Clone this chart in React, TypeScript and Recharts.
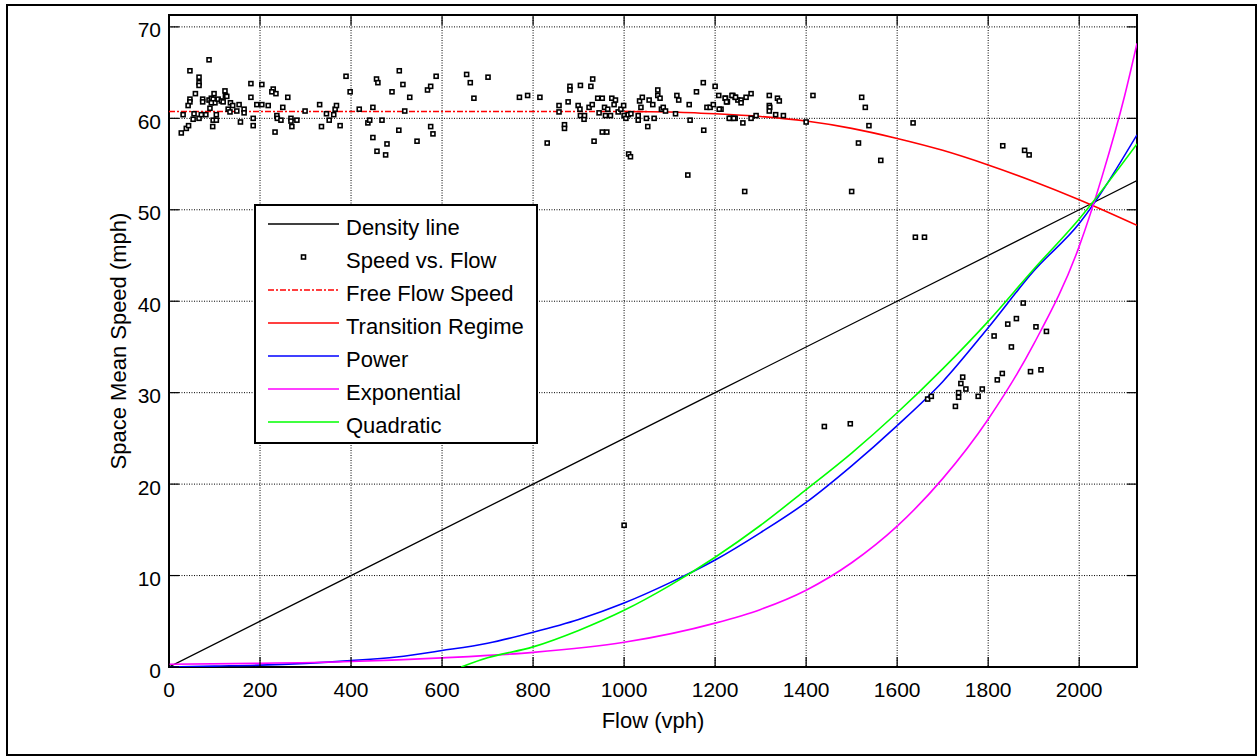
import React from 'react';
import { ComposedChart, Line, Scatter, XAxis, YAxis, CartesianGrid, ReferenceArea } from 'recharts';

// axis ticks
const xTicks = [0, 200, 400, 600, 800, 1000, 1200, 1400, 1600, 1800, 2000];
const yTicks = [0, 10, 20, 30, 40, 50, 60, 70];
const X_MAX = 2127;
const Y_MAX = 71.3;

// observed points: [flow (vph), speed (mph)]
const speedVsFlow: [number, number][] = [
    [88, 66.4], [46, 65.2], [66, 64.5], [66, 63.9], [66, 63.6], [58, 62.7], [46, 62.1], [46, 61.8], [42, 61.4], [74, 62.1],
    [74, 61.8], [88, 62.0], [93, 62.2], [99, 62.7], [97, 62.1], [101, 61.7], [108, 62.1], [115, 61.9], [119, 61.8], [123, 63.0],
    [124, 62.5], [127, 62.4], [135, 61.7], [140, 61.4], [130, 61.0], [134, 60.7], [149, 60.8], [154, 61.5], [165, 61.0], [165, 60.6],
    [157, 59.6], [180, 63.8], [180, 62.3], [185, 60.0], [185, 59.2], [193, 61.5], [204, 61.5], [204, 63.7], [218, 61.4], [229, 63.2],
    [226, 62.9], [235, 62.7], [237, 60.3], [238, 60.0], [233, 58.5], [246, 59.8], [250, 61.2], [261, 62.3], [268, 60.0], [268, 59.7],
    [270, 59.1], [281, 59.8], [299, 60.8], [331, 61.5], [335, 59.1], [346, 60.5], [352, 59.8], [362, 60.4], [365, 61.0], [368, 61.4],
    [376, 59.2], [389, 64.6], [398, 62.9], [418, 61.0], [437, 59.5], [441, 59.8], [448, 61.2], [448, 57.9], [456, 64.3], [459, 63.9],
    [457, 56.4], [468, 59.8], [476, 56.0], [479, 57.2], [490, 62.9], [505, 58.7], [506, 65.2], [514, 63.7], [518, 60.8], [529, 62.3],
    [545, 57.5], [568, 63.1], [575, 63.5], [575, 59.1], [580, 58.3], [587, 64.6],
    [27, 58.4], [38, 58.9], [43, 59.2], [31, 60.4], [53, 59.9], [55, 60.5], [66, 60.0], [71, 60.4], [81, 60.4], [96, 59.1],
    [97, 59.8], [104, 59.8], [104, 60.4], [90, 61.1], [93, 61.7],
    [654, 64.8], [662, 63.9], [670, 62.2], [701, 64.5], [770, 62.3], [788, 62.5], [815, 62.3], [831, 57.3], [857, 61.4], [857, 60.7],
    [869, 59.3], [869, 58.9], [877, 61.8], [881, 63.5], [881, 63.1], [899, 61.4], [903, 61.0], [904, 63.6], [904, 60.3], [912, 59.9],
    [913, 60.3], [923, 61.2], [927, 63.5], [930, 61.5], [931, 64.3], [934, 57.5], [942, 62.2], [945, 60.6], [952, 62.2], [952, 58.5],
    [962, 58.5], [957, 61.2], [959, 60.3], [964, 61.0], [970, 60.3], [973, 62.2], [978, 61.5], [981, 62.0], [987, 60.7], [993, 61.0],
    [999, 61.4], [1000, 60.3], [1004, 60.0], [1010, 56.1], [1014, 55.8], [1009, 60.4], [1015, 60.5], [1031, 60.3], [1031, 59.8], [1034, 61.9],
    [1037, 61.2], [1040, 62.3], [1049, 60.0], [1052, 59.1], [1055, 62.0], [1063, 61.5], [1066, 60.0], [1074, 63.1], [1074, 62.5], [1079, 62.2],
    [1082, 61.0], [1086, 61.2], [1091, 60.8], [1113, 60.5], [1116, 62.5], [1120, 62.0], [1143, 61.5], [1145, 59.8], [1159, 62.9], [1175, 58.7],
    [1174, 63.9], [1182, 61.2], [1189, 61.2], [1196, 61.5], [1200, 63.5], [1208, 62.5], [1213, 61.0], [1223, 62.2], [1227, 61.8], [1234, 60.0],
    [1244, 60.0], [1239, 62.5], [1244, 62.3], [1250, 62.0],
    [1209, 61.0], [1222, 62.2], [1225, 61.8], [1237, 62.5], [1245, 62.3], [1257, 62.0], [1257, 61.7], [1268, 62.3], [1279, 62.7], [1231, 60.0],
    [1241, 60.0], [1261, 59.5], [1279, 60.0], [1290, 60.3], [1319, 62.5], [1319, 61.4], [1320, 61.2], [1319, 60.8], [1333, 60.4], [1337, 62.2],
    [1341, 61.9], [1350, 60.3], [1400, 59.6], [1415, 62.5], [1515, 57.3], [1522, 62.3], [1530, 61.2], [1538, 59.2], [1564, 55.4], [1635, 59.5],
    [1832, 57.0], [1880, 56.5], [1890, 56.0],
    [1000, 15.5], [1140, 53.8], [1265, 52.0], [1500, 52.0], [1440, 26.3], [1640, 47.0], [1660, 47.0],
    [1497, 26.6], [1667, 29.3], [1675, 29.6], [1728, 28.5], [1735, 29.5], [1735, 30.0], [1740, 31.0], [1744, 31.7], [1751, 30.4], [1778, 29.6],
    [1787, 30.4], [1813, 36.2], [1820, 31.4], [1831, 32.1], [1843, 37.5], [1851, 35.0], [1862, 38.1], [1877, 39.8], [1893, 32.3], [1905, 37.2],
    [1916, 32.5], [1928, 36.7],
];

// fitted / reference curves
const densityFlow = [0, 400, 800, 1200, 1600, 2000, 2127];
const densitySpeed = [0, 10, 20, 30, 40, 50, 53.2];

const freeFlowFlow = [0, 1050];
const freeFlowSpeed = [60.75, 60.75];

const transitionFlow = [1000, 1100, 1200, 1300, 1400, 1500, 1600, 1700, 1800, 1900, 2000, 2127];
const transitionSpeed = [60.75, 60.7, 60.5, 60.2, 59.7, 58.9, 57.8, 56.5, 54.9, 53.1, 51.1, 48.3];

const powerFlow = [0, 100, 200, 300, 400, 500, 600, 700, 800, 900, 1000, 1100, 1200, 1300, 1400, 1500, 1600, 1700, 1800, 1900, 2000, 2127];
const powerSpeed = [0, 0.1, 0.2, 0.4, 0.7, 1.1, 1.8, 2.6, 3.8, 5.2, 7.0, 9.2, 11.7, 14.7, 18.0, 22.0, 26.4, 31.2, 37.1, 43.3, 48.5, 58.2];

const expFlow = [0, 200, 400, 600, 800, 1000, 1200, 1300, 1400, 1500, 1600, 1700, 1800, 1900, 2000, 2050, 2100, 2127];
const expSpeed = [0.3, 0.4, 0.6, 1.0, 1.6, 2.7, 4.8, 6.3, 8.4, 11.4, 15.4, 20.6, 27.1, 35.3, 46.0, 53.6, 62.5, 68.2];

const quadFlow = [642, 700, 800, 900, 1000, 1100, 1200, 1300, 1400, 1500, 1600, 1700, 1800, 1900, 2000, 2127];
const quadSpeed = [0, 1.0, 2.2, 4.0, 6.2, 8.9, 12.0, 15.5, 19.4, 23.4, 27.8, 32.6, 37.8, 43.5, 49.0, 57.2];

const legendItems = [
    { name: 'Density line', color: '#000000', kind: 'line', dash: undefined },
    { name: 'Speed vs. Flow', color: '#000000', kind: 'marker', dash: undefined },
    { name: 'Free Flow Speed', color: '#ff0000', kind: 'line', dash: '6 2 2 2' },
    { name: 'Transition Regime', color: '#ff0000', kind: 'line', dash: undefined },
    { name: 'Power', color: '#0000ff', kind: 'line', dash: undefined },
    { name: 'Exponential', color: '#ff00ff', kind: 'line', dash: undefined },
    { name: 'Quadratic', color: '#00ff00', kind: 'line', dash: undefined },
];

// layout
const CHART_W = 1257;
const CHART_H = 756;
const PLOT_LEFT = 169;
const PLOT_RIGHT = 1137;
const PLOT_TOP = 15;
const PLOT_BOTTOM = 667;
const Y_AXIS_W = 102;
const X_AXIS_H = 70;
const FONT = '"Liberation Sans", Arial, Helvetica, sans-serif';

const toPoints = (xs: number[], ys: number[]) => xs.map((x, i) => ({ x, y: ys[i] }));
const scatterData = speedVsFlow.map(([x, y]) => ({ x, y }));

// MATLAB style: ticks point inward, on both sides of the box
const XTick = ({ x, y, payload }: any) => (
    <g>
        <line x1={x} x2={x} y1={y} y2={y - 10} stroke="#000" strokeWidth={1.2} />
        <line x1={x} x2={x} y1={PLOT_TOP} y2={PLOT_TOP + 10} stroke="#000" strokeWidth={1.2} />
        <text x={x} y={y + 30} textAnchor="middle" fontSize={21} fontFamily={FONT} fill="#000">
            {payload.value}
        </text>
    </g>
);

const YTick = ({ x, y, payload }: any) => (
    <g>
        <line x1={x} x2={x + 10} y1={y} y2={y} stroke="#000" strokeWidth={1.2} />
        <line x1={PLOT_RIGHT - 10} x2={PLOT_RIGHT} y1={y} y2={y} stroke="#000" strokeWidth={1.2} />
        <text x={x - 8} y={y + 10.5} textAnchor="end" fontSize={21} fontFamily={FONT} fill="#000">
            {payload.value}
        </text>
    </g>
);

const SquareMarker = ({ cx, cy }: any) => (
    <rect x={cx - 2} y={cy - 2} width={4} height={4} fill="#fff" stroke="#000" strokeWidth={1.6} />
);

const App: React.FC = () => {
    return (
        <div style={{ position: 'relative', width: CHART_W, height: CHART_H, background: '#fff', fontFamily: FONT }}>
            <style>{`body { margin: 0; }`}</style>

            {/* figure frame */}
            <div style={{
                position: 'absolute',
                left: 6,
                top: 4,
                width: 1251,
                height: 752,
                border: '2px solid #000',
                boxSizing: 'border-box'
            }} />

            <div style={{ position: 'absolute', left: 0, top: 0 }}>
                <ComposedChart
                    width={CHART_W}
                    height={CHART_H}
                    margin={{
                        top: PLOT_TOP,
                        right: CHART_W - PLOT_RIGHT,
                        left: PLOT_LEFT - Y_AXIS_W,
                        bottom: CHART_H - PLOT_BOTTOM - X_AXIS_H,
                    }}
                >
                    <CartesianGrid stroke="#000" strokeWidth={1} strokeDasharray="1 1.5" />
                    <XAxis
                        type="number"
                        dataKey="x"
                        domain={[0, X_MAX]}
                        ticks={xTicks}
                        allowDataOverflow
                        height={X_AXIS_H}
                        axisLine={false}
                        tickLine={false}
                        tickSize={0}
                        tickMargin={0}
                        tick={<XTick />}
                        label={{ value: 'Flow (vph)', position: 'insideBottom', offset: 9, fontSize: 22, fill: '#000', fontFamily: FONT }}
                    />
                    <YAxis
                        type="number"
                        dataKey="y"
                        domain={[0, Y_MAX]}
                        ticks={yTicks}
                        allowDataOverflow
                        width={Y_AXIS_W}
                        axisLine={false}
                        tickLine={false}
                        tickSize={0}
                        tickMargin={0}
                        tick={<YTick />}
                        label={{ value: 'Space Mean Speed (mph)', angle: -90, position: 'center', fontSize: 22, fill: '#000', fontFamily: FONT }}
                    />
                    <Line
                        data={toPoints(densityFlow, densitySpeed)}
                        dataKey="y"
                        type="linear"
                        stroke="#000000"
                        strokeWidth={1.3}
                        dot={false}
                        isAnimationActive={false}
                    />
                    <Scatter
                        data={scatterData}
                        dataKey="y"
                        shape={<SquareMarker />}
                        isAnimationActive={false}
                    />
                    <Line
                        data={toPoints(freeFlowFlow, freeFlowSpeed)}
                        dataKey="y"
                        type="linear"
                        stroke="#ff0000"
                        strokeWidth={1.6}
                        strokeDasharray="6 2 2 2"
                        dot={false}
                        isAnimationActive={false}
                    />
                    <Line
                        data={toPoints(transitionFlow, transitionSpeed)}
                        dataKey="y"
                        type="monotone"
                        stroke="#ff0000"
                        strokeWidth={1.6}
                        dot={false}
                        isAnimationActive={false}
                    />
                    <Line
                        data={toPoints(powerFlow, powerSpeed)}
                        dataKey="y"
                        type="monotone"
                        stroke="#0000ff"
                        strokeWidth={1.6}
                        dot={false}
                        isAnimationActive={false}
                    />
                    <Line
                        data={toPoints(expFlow, expSpeed)}
                        dataKey="y"
                        type="monotone"
                        stroke="#ff00ff"
                        strokeWidth={1.6}
                        dot={false}
                        isAnimationActive={false}
                    />
                    <Line
                        data={toPoints(quadFlow, quadSpeed)}
                        dataKey="y"
                        type="monotone"
                        stroke="#00ff00"
                        strokeWidth={1.6}
                        dot={false}
                        isAnimationActive={false}
                    />
                    <ReferenceArea
                        x1={0}
                        x2={X_MAX}
                        y1={0}
                        y2={Y_MAX}
                        fill="none"
                        fillOpacity={0}
                        stroke="#000"
                        strokeWidth={2}
                    />
                </ComposedChart>
            </div>

            {/* legend box, MATLAB style */}
            <svg
                width={284}
                height={240}
                style={{ position: 'absolute', left: 254, top: 204 }}
            >
                <rect x={1} y={1} width={282} height={238} fill="#fff" stroke="#000" strokeWidth={2} />
                {legendItems.map((item, i) => {
                    const ly = 20 + i * 33;
                    return (
                        <g key={item.name}>
                            {item.kind === 'line' ? (
                                <line
                                    x1={14}
                                    x2={85}
                                    y1={ly}
                                    y2={ly}
                                    stroke={item.color}
                                    strokeWidth={item.dash ? 1.3 : 1.6}
                                    strokeDasharray={item.dash}
                                />
                            ) : (
                                <rect x={47.5} y={ly - 2} width={4} height={4} fill="#fff" stroke="#000" strokeWidth={1.6} />
                            )}
                            <text x={92} y={ly + 11} fontSize={22} fontFamily={FONT} fill="#000">
                                {item.name}
                            </text>
                        </g>
                    );
                })}
            </svg>
        </div>
    );
};

export default App;
